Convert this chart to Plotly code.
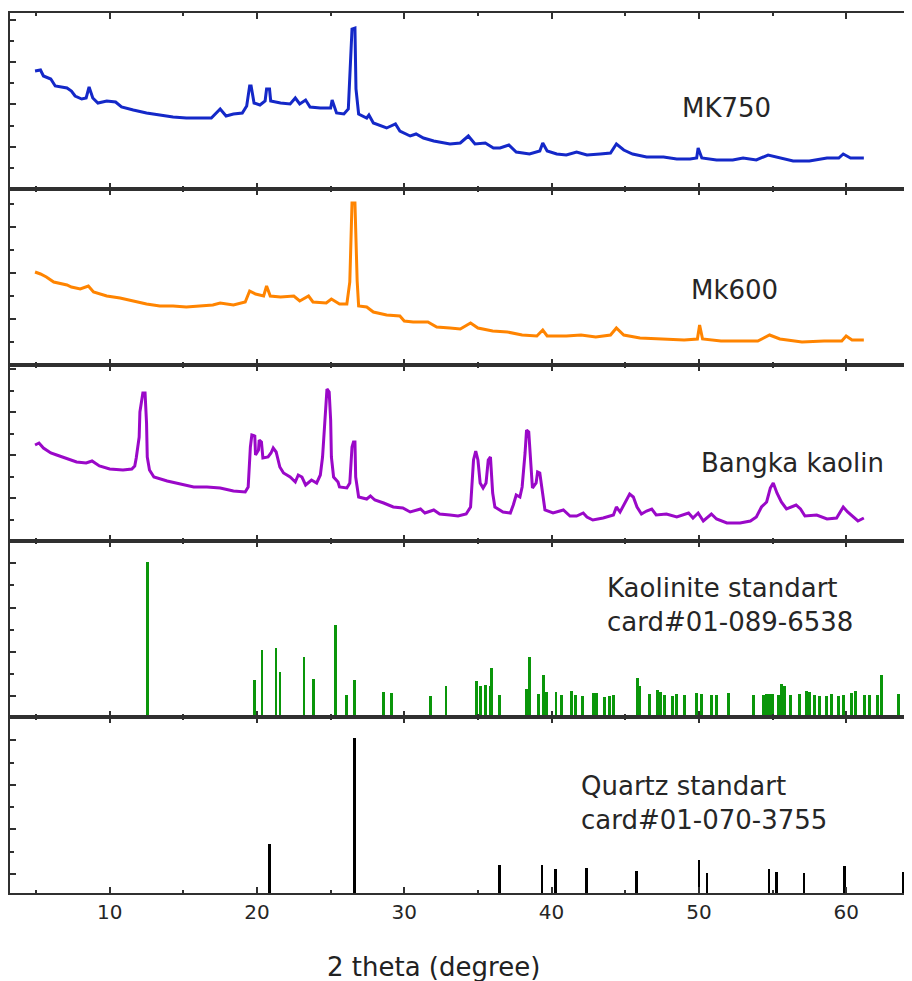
import plotly.graph_objects as go
from plotly.subplots import make_subplots

# ---------------- data (2 theta in degrees, intensity in arbitrary units) ----------------
mk750_x = [4.93, 5.3, 5.5, 6.0, 6.3, 7.1, 7.4, 7.65, 8.1, 8.4,
           8.6, 8.85, 9.2, 9.8, 10.4, 10.8, 11.6, 12.5, 13.4, 14.3,
           15.2, 16.1, 16.9, 17.5, 17.9, 18.4, 19.0, 19.3, 19.5, 19.6,
           19.8, 20.2, 20.55, 20.65, 20.85, 20.93, 21.6, 22.25, 22.6, 22.9,
           23.3, 23.6, 24.3, 25.0, 25.1, 25.4, 25.9, 26.2, 26.3, 26.45,
           26.65, 26.72, 26.9, 27.45, 27.6, 27.9, 28.8, 29.4, 29.7, 30.4,
           30.8, 31.3, 32.0, 32.9, 33.1, 33.8, 34.35, 34.8, 35.5, 36.05,
           36.5, 37.1, 37.6, 38.5, 39.2, 39.4, 39.7, 40.35, 41.0, 41.7,
           42.4, 43.3, 44.0, 44.4, 44.9, 45.5, 46.45, 47.6, 48.5, 49.4,
           49.85, 49.95, 50.2, 51.2, 52.3, 53.0, 53.9, 54.7, 55.5, 56.4,
           57.5, 58.7, 59.5, 59.8, 60.3, 61.2]
mk750_y = [118, 119, 113, 110, 103, 101, 98, 93, 90, 91,
           102, 91, 86, 88, 87, 82, 79, 76, 74, 72,
           71, 71, 71, 80, 73, 75, 76, 83, 103, 103,
           86, 84, 88, 100, 100, 88, 86, 85, 91, 85,
           89, 82, 81, 81, 89, 76, 75, 80, 108, 160,
           161, 100, 75, 71, 74, 66, 61, 65, 58, 53,
           55, 51, 48, 45, 45, 46, 53, 45, 46, 41,
           41, 44, 37, 35, 38, 46, 38, 35, 34, 37,
           34, 35, 36, 45, 39, 35, 32, 32, 30, 30,
           31, 41, 31, 29, 29, 31, 29, 34, 31, 28,
           28, 31, 31, 35, 31, 31]

mk600_x = [4.93, 5.3, 5.7, 6.2, 7.1, 7.4, 8.0, 8.55, 8.9, 9.8,
           10.7, 11.6, 12.5, 13.4, 14.3, 15.2, 16.1, 17.0, 17.5, 18.4,
           19.2, 19.5, 19.9, 20.45, 20.65, 20.9, 21.6, 22.5, 22.9, 23.5,
           23.8, 24.7, 25.05, 25.6, 26.1, 26.3, 26.45, 26.65, 26.8, 26.9,
           27.45, 27.9, 28.8, 29.7, 30.0, 30.6, 31.6, 32.2, 33.1, 33.8,
           34.5, 35.0, 36.0, 37.0, 38.0, 39.0, 39.4, 39.7, 41.0, 42.0,
           43.0, 44.0, 44.4, 44.9, 46.0, 47.5, 49.0, 49.9, 50.05, 50.25,
           51.5, 53.0, 54.0, 54.8, 55.5, 57.0, 58.5, 59.7, 60.0, 60.4,
           61.2]
mk600_y = [93, 91, 88, 83, 80, 78, 76, 79, 73, 69,
           67, 64, 61, 59, 59, 58, 59, 60, 62, 60,
           63, 74, 71, 69, 79, 69, 68, 69, 64, 69,
           63, 62, 66, 61, 61, 83, 162, 162, 84, 59,
           58, 53, 50, 49, 44, 43, 43, 38, 37, 36,
           42, 37, 34, 33, 30, 29, 35, 29, 29, 30,
           28, 30, 37, 30, 27, 26, 25, 26, 40, 26,
           24, 24, 24, 30, 26, 23, 24, 24, 29, 25,
           25]

kaolin_x = [4.93, 5.2, 5.5, 6.0, 6.4, 7.1, 7.75, 8.4, 8.8, 9.3,
            10.0, 10.9, 11.5, 11.7, 11.8, 12.0, 12.05, 12.25, 12.4, 12.5,
            12.55, 12.7, 13.0, 13.9, 14.8, 15.7, 16.6, 17.5, 18.4, 19.2,
            19.4, 19.55, 19.65, 19.85, 19.9, 20.1, 20.15, 20.3, 20.4, 20.75,
            20.95, 21.1, 21.3, 21.55, 21.8, 22.25, 22.6, 22.8, 23.05, 23.3,
            23.7, 24.05, 24.3, 24.45, 24.6, 24.75, 24.9, 25.0, 25.05, 25.2,
            25.5, 25.6, 26.1, 26.3, 26.45, 26.55, 26.65, 26.7, 26.9, 27.45,
            27.7, 28.0, 28.6, 29.25, 29.9, 30.4, 31.1, 31.4, 32.0, 32.4,
            33.1, 33.65, 34.2, 34.5, 34.7, 34.85, 35.0, 35.15, 35.35, 35.55,
            35.7, 35.85, 36.0, 36.15, 36.7, 37.2, 37.4, 37.6, 37.85, 38.0,
            38.2, 38.3, 38.45, 38.55, 38.7, 38.95, 39.05, 39.2, 39.4, 39.55,
            40.1, 40.8, 41.25, 41.7, 42.15, 42.4, 42.8, 43.5, 44.2, 44.4,
            44.65, 45.0, 45.3, 45.55, 45.8, 46.1, 46.45, 46.8, 47.1, 47.8,
            48.5, 49.3, 49.6, 49.95, 50.3, 50.85, 51.2, 51.9, 52.8, 53.5,
            53.9, 54.25, 54.6, 54.85, 55.05, 55.3, 55.6, 55.95, 56.6, 56.9,
            57.2, 58.0, 58.7, 59.35, 59.8, 60.1, 60.5, 60.8, 61.2]
kaolin_y = [96, 98, 93, 88, 86, 82, 79, 78, 80, 75,
            72, 71, 72, 75, 83, 104, 129, 148, 148, 118,
            84, 71, 64, 60, 57, 54, 54, 53, 50, 49,
            54, 94, 106, 105, 86, 91, 101, 99, 83, 84,
            88, 93, 89, 74, 68, 64, 59, 66, 64, 56,
            61, 58, 66, 84, 118, 152, 149, 121, 84, 64,
            59, 54, 53, 58, 94, 99, 99, 64, 44, 42,
            45, 41, 38, 34, 33, 29, 32, 28, 31, 27,
            26, 25, 27, 34, 81, 90, 81, 58, 53, 58,
            81, 84, 48, 34, 29, 28, 36, 46, 44, 54,
            88, 111, 109, 84, 53, 58, 69, 68, 48, 31,
            28, 31, 25, 25, 28, 24, 21, 23, 26, 34,
            29, 38, 47, 44, 34, 27, 30, 32, 26, 27,
            24, 28, 23, 28, 20, 27, 22, 18, 18, 20,
            24, 34, 39, 53, 58, 48, 39, 32, 36, 32,
            25, 26, 22, 23, 34, 29, 24, 20, 23]

kaolinite_x = [12.58, 19.82, 20.34, 21.29, 21.56, 23.19, 23.83, 25.34, 26.09, 26.6,
               28.58, 29.14, 31.81, 32.83, 34.91, 35.18, 35.54, 35.82, 35.95, 36.45,
               38.3, 38.53, 39.1, 39.44, 39.66, 40.3, 40.68, 41.36, 41.65, 42.1,
               42.83, 43.06, 43.58, 43.92, 44.19, 45.82, 46.0, 46.63, 47.2, 47.4,
               47.65, 48.2, 48.49, 49.05, 49.85, 50.18, 50.86, 51.2, 52.0, 53.74,
               54.37, 54.6, 54.78, 55.0, 55.39, 55.62, 55.84, 56.23, 56.86, 57.31,
               57.54, 57.88, 58.22, 58.67, 59.01, 59.46, 59.8, 60.37, 60.66, 61.27,
               61.57, 62.11, 62.41, 63.54]
kaolinite_y = [155, 37, 67, 69, 45, 60, 38, 92, 22, 37,
               25, 24, 21, 31, 36, 31, 32, 31, 49, 22,
               28, 60, 23, 42, 25, 25, 22, 26, 22, 21,
               24, 24, 20, 21, 22, 39, 31, 23, 27, 25,
               22, 21, 23, 22, 24, 23, 22, 22, 24, 22,
               22, 23, 23, 23, 22, 33, 31, 22, 23, 26,
               25, 22, 21, 21, 23, 21, 22, 24, 26, 22,
               22, 22, 42, 23]

quartz_x = [20.84, 26.6, 36.48, 39.36, 40.27, 42.36, 45.76, 50.02, 50.54, 54.76,
            55.28, 57.13, 59.9, 63.88]
quartz_y = [49, 155, 28, 28, 24, 25, 22, 33, 20, 24,
            21, 20, 27, 21]

x_ticks = [10, 20, 30, 40, 50, 60]
labels = ["MK750", "Mk600", "Bangka kaolin",
          "Kaolinite standart<br>card#01-089-6538",
          "Quartz standart<br>card#01-070-3755"]

# ---------------- figure ----------------
AX = "#303030"
FONT = "DejaVu Sans"

fig = make_subplots(rows=5, cols=1, shared_xaxes=True, vertical_spacing=0)

fig.add_trace(go.Scatter(x=mk750_x, y=mk750_y, mode="lines",
                         line=dict(color="#1428C8", width=3)), row=1, col=1)
fig.add_trace(go.Scatter(x=mk600_x, y=mk600_y, mode="lines",
                         line=dict(color="#FF8400", width=3)), row=2, col=1)
fig.add_trace(go.Scatter(x=kaolin_x, y=kaolin_y, mode="lines",
                         line=dict(color="#9A08C8", width=3)), row=3, col=1)
fig.add_trace(go.Bar(x=kaolinite_x, y=kaolinite_y, width=0.2,
                     marker=dict(color="#0A960A", line=dict(width=0))), row=4, col=1)
fig.add_trace(go.Bar(x=quartz_x, y=quartz_y, width=0.18,
                     marker=dict(color="#000000", line=dict(width=0))), row=5, col=1)

fig.update_xaxes(range=[3.23, 64.47], showline=True, linecolor=AX, linewidth=2,
                 mirror="ticks", ticks="inside", ticklen=6, tickwidth=1.5, tickcolor=AX,
                 tickmode="array", tickvals=x_ticks, showgrid=False, zeroline=False,
                 minor=dict(ticks="inside", ticklen=3, tickwidth=1.5, tickcolor=AX,
                            dtick=5, tick0=0, showgrid=False),
                 showticklabels=False)
fig.update_xaxes(showticklabels=True,
                 tickfont=dict(family=FONT, size=20, color="#262626"), row=5, col=1)

# per-panel y tick layout (tick0, dtick)
ytick_cfg = [(0, 42.3), (0, 46), (0, 43), (20.7, 44.4), (19, 44.6)]
for i, (t0, dt) in enumerate(ytick_cfg, start=1):
    fig.update_yaxes(range=[0, 176], showline=True, linecolor=AX, linewidth=2,
                     mirror=False, ticks="inside", ticklen=6, tickwidth=1.5, tickcolor=AX,
                     tick0=t0, dtick=dt, showticklabels=False, showgrid=False,
                     zeroline=False,
                     minor=dict(ticks="inside", ticklen=3.5, tickwidth=1.5, tickcolor=AX,
                                tick0=t0, dtick=dt / 2, showgrid=False),
                     row=i, col=1)

# sample labels
ann_font = dict(family=FONT, size=26, color="#262626")
fig.add_annotation(x=51.9, y=81, text=labels[0], showarrow=False, xanchor="center",
                   yanchor="middle", font=ann_font, row=1, col=1)
fig.add_annotation(x=52.4, y=75, text=labels[1], showarrow=False, xanchor="center",
                   yanchor="middle", font=ann_font, row=2, col=1)
fig.add_annotation(x=56.35, y=78, text=labels[2], showarrow=False, xanchor="center",
                   yanchor="middle", font=ann_font, row=3, col=1)
fig.add_annotation(x=43.6, y=112, text=labels[3], showarrow=False, xanchor="left",
                   align="left", yanchor="middle", font=ann_font, row=4, col=1)
fig.add_annotation(x=41.85, y=90, text=labels[4], showarrow=False, xanchor="left",
                   align="left", yanchor="middle", font=ann_font, row=5, col=1)

# x-axis title
fig.add_annotation(x=0.469, y=-0.084, xref="paper", yref="paper",
                   text="2 theta (degree)", showarrow=False, xanchor="center",
                   yanchor="middle", font=dict(family=FONT, size=26, color="#222222"))

# the page body adds an 8px offset, so the figure is sized to end at the window edge
fig.update_layout(width=904, height=973, margin=dict(l=2, r=0, t=5, b=88),
                  paper_bgcolor="white", plot_bgcolor="white", showlegend=False,
                  bargap=0)

fig.write_html("out.html")
